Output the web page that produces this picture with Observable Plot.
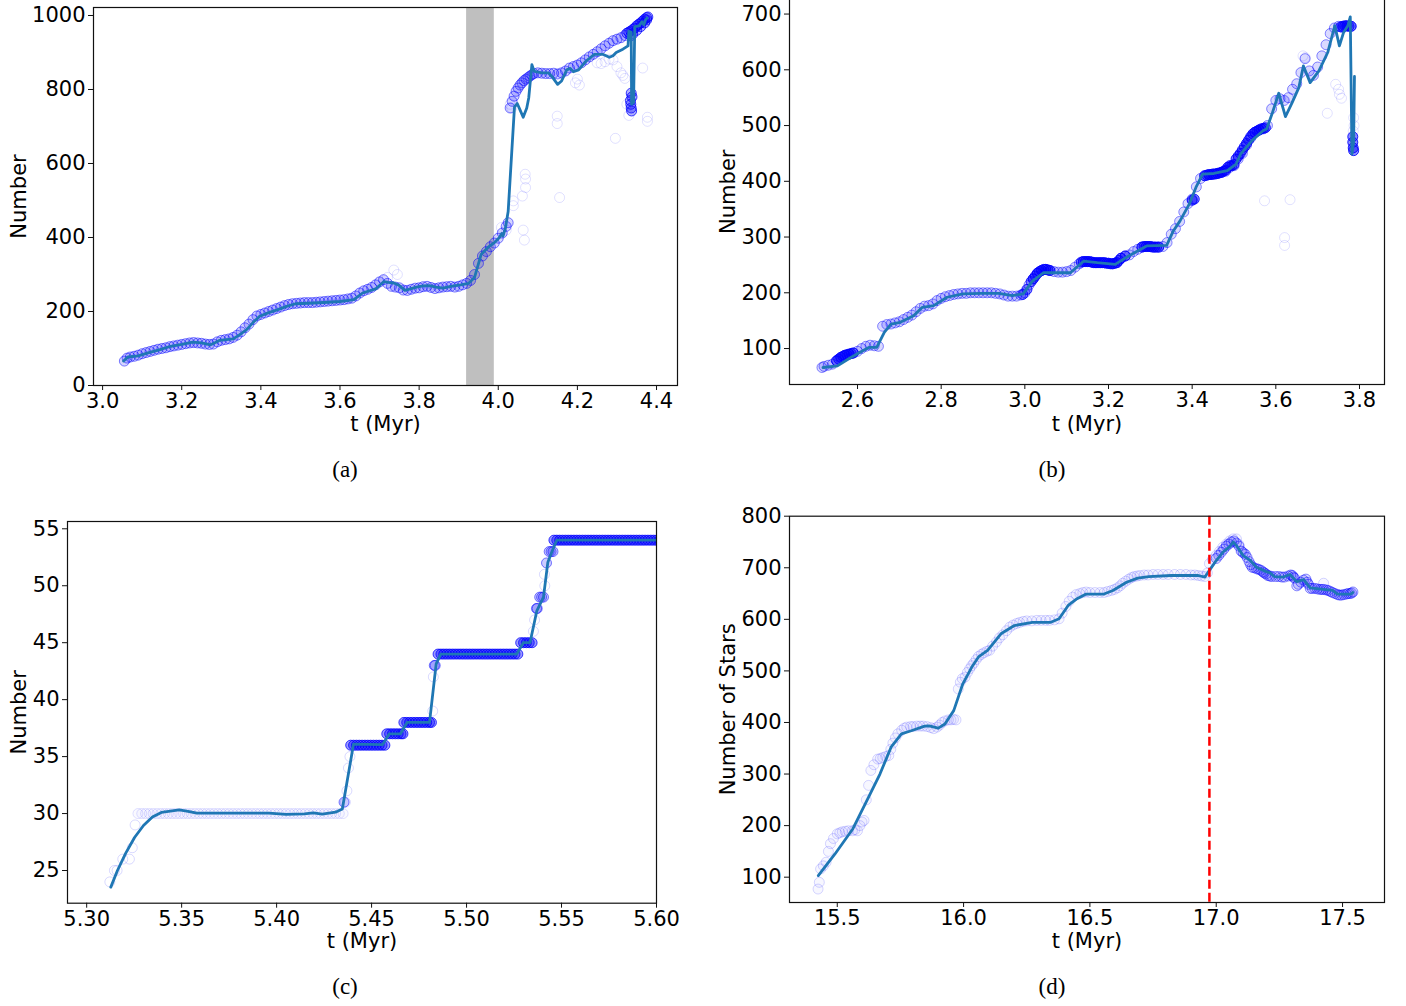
<!DOCTYPE html>
<html><head><meta charset="utf-8">
<script src="https://cdn.jsdelivr.net/npm/d3@7"></script>
<script src="https://cdn.jsdelivr.net/npm/@observablehq/plot@0.6"></script>
<style>
html,body{margin:0;padding:0;background:#fff}
body{width:1406px;height:1006px;position:relative;overflow:hidden;font-family:"DejaVu Sans",sans-serif}
.panel{position:absolute}
.cap{position:absolute;font-family:"Liberation Serif","DejaVu Serif",serif;font-size:23px;transform:translate(-50%,-50%);white-space:nowrap}
</style></head><body>
<div id="pa" class="panel" style="left:0px;top:0px"></div>
<div id="pb" class="panel" style="left:700px;top:-10px"></div>
<div id="pc" class="panel" style="left:0px;top:470px"></div>
<div id="pd" class="panel" style="left:700px;top:470px"></div>
<div class="cap" style="left:345px;top:470px">(a)</div>
<div class="cap" style="left:1052px;top:470px">(b)</div>
<div class="cap" style="left:345px;top:987px">(c)</div>
<div class="cap" style="left:1052px;top:987px">(d)</div>
<script>
// ---------- Panel (a) ----------
const aXTicks = [3.0, 3.2, 3.4, 3.6, 3.8, 4.0, 4.2, 4.4];
const aYTicks = [0, 200, 400, 600, 800, 1000];
const aShade = [[3.92, 3.99]];
const aLine = [[3.053,66],[3.064,77],[3.09,80],[3.115,88],[3.145,97],[3.172,106],[3.2,111],[3.228,117],[3.25,115],[3.273,110],[3.285,116],[3.296,122],[3.33,126],[3.345,136],[3.364,151],[3.38,170],[3.397,187],[3.42,197],[3.443,205],[3.465,214],[3.488,221],[3.533,223],[3.57,225],[3.60,227],[3.635,232],[3.657,250],[3.69,261],[3.711,281],[3.722,279],[3.736,277],[3.75,270],[3.764,257],[3.78,262],[3.793,266],[3.81,269],[3.826,270],[3.843,266],[3.86,263],[3.88,268],[3.905,272],[3.925,276],[3.94,292],[3.957,355],[3.974,373],[3.99,386],[4.003,400],[4.009,411],[4.012,404],[4.018,425],[4.025,470],[4.041,753],[4.048,762],[4.055,745],[4.063,725],[4.072,750],[4.077,777],[4.085,867],[4.091,849],[4.11,845],[4.127,845],[4.135,836],[4.15,814],[4.16,823],[4.173,853],[4.182,857],[4.19,848],[4.203,853],[4.222,877],[4.243,895],[4.264,895],[4.281,887],[4.29,891],[4.298,900],[4.315,909],[4.328,918],[4.33,957],[4.336,955],[4.337,760],[4.342,765],[4.345,970],[4.356,972],[4.363,983],[4.368,975],[4.372,988],[4.376,993]];
const aBand = [[3.055,66],[3.062,74],[3.07,77],[3.08,79],[3.09,82],[3.10,86],[3.11,89],[3.12,92],[3.13,95],[3.14,98],[3.15,100],[3.16,102],[3.17,105],[3.18,107],[3.19,109],[3.20,111],[3.21,113],[3.22,115],[3.23,116],[3.24,115],[3.25,114],[3.26,112],[3.27,111],[3.28,112],[3.29,118],[3.30,122],[3.31,124],[3.32,126],[3.33,130],[3.34,136],[3.35,145],[3.36,156],[3.37,166],[3.38,178],[3.39,188],[3.40,192],[3.41,196],[3.42,200],[3.43,204],[3.44,208],[3.45,212],[3.46,216],[3.47,219],[3.48,221],[3.49,222],[3.50,223],[3.51,224],[3.52,224],[3.53,224],[3.54,225],[3.55,226],[3.56,227],[3.57,228],[3.58,229],[3.59,230],[3.60,231],[3.61,232],[3.62,234],[3.63,236],[3.64,242],[3.65,250],[3.66,256],[3.67,260],[3.68,265],[3.69,272],[3.70,280],[3.71,286],[3.72,276],[3.73,268],[3.74,266],[3.75,264],[3.76,258],[3.77,257],[3.78,260],[3.79,263],[3.80,264],[3.81,267],[3.82,268],[3.83,265],[3.84,262],[3.85,264],[3.86,266],[3.87,267],[3.88,268],[3.89,266],[3.90,268],[3.91,272],[3.92,276],[3.93,284],[3.94,300],[3.95,330],[3.96,350],[3.97,362],[3.98,375],[3.99,385],[4.00,398],[4.01,412],[4.02,430],[4.025,440],[4.03,750],[4.035,768],[4.04,782],[4.045,795],[4.05,804],[4.055,812],[4.06,818],[4.065,824],[4.07,828],[4.075,832],[4.08,836],[4.085,840],[4.09,843],[4.10,845],[4.11,844],[4.12,843],[4.13,843],[4.14,844],[4.15,842],[4.16,845],[4.17,850],[4.18,858],[4.19,862],[4.20,866],[4.21,872],[4.22,880],[4.23,888],[4.24,895],[4.25,902],[4.26,910],[4.27,918],[4.28,925],[4.29,932],[4.30,936],[4.31,940],[4.32,946]];
const aSparse = [[3.736,312],[3.745,300],[3.72,292],[4.008,427],[4.02,420],[4.038,499],[4.038,486],[4.061,512],[4.068,571],[4.069,558],[4.069,535],[4.063,420],[4.066,393],[4.149,728],[4.149,708],[4.155,508],[4.296,668],[4.365,858],[4.377,725],[4.377,714],[4.195,818],[4.2,828],[4.205,812],[4.25,872],[4.26,870],[4.27,875],[4.28,882],[4.29,880],[4.30,862],[4.31,845],[4.315,838],[4.32,830],[4.03,760],[4.034,750],[4.325,760],[4.33,730]];
const aDense = [[4.325,952],[4.33,955],[4.335,958],[4.34,962],[4.345,966],[4.35,972],[4.355,976],[4.36,980],[4.365,985],[4.37,990],[4.375,994],[4.378,996],[4.335,945],[4.34,950],[4.35,960],[4.36,970],[4.37,980],[4.375,988],[4.334,770],[4.335,760],[4.336,750],[4.337,742],[4.338,780],[4.336,790]];

// ---------- Panel (b) ----------
const bXTicks = [2.6, 2.8, 3.0, 3.2, 3.4, 3.6, 3.8];
const bYTicks = [100, 200, 300, 400, 500, 600, 700];
const bLine = [[2.5175,66],[2.552,69],[2.584,84],[2.605,93],[2.627,102],[2.646,102],[2.664,129],[2.68,144],[2.702,147],[2.734,159],[2.755,174],[2.782,177],[2.814,192],[2.852,198],[2.895,199],[2.938,199],[2.97,195],[2.996,198],[3.018,221],[3.045,236],[3.077,236],[3.109,236],[3.141,257],[3.173,254],[3.216,251],[3.248,266],[3.291,284],[3.339,285],[3.355,311],[3.371,329],[3.393,359],[3.409,389],[3.425,413],[3.452,414],[3.484,419],[3.505,431],[3.516,449],[3.543,473],[3.57,491],[3.578,494],[3.591,521],[3.607,558],[3.623,516],[3.639,541],[3.655,568],[3.666,607],[3.682,577],[3.703,598],[3.724,631],[3.741,679],[3.752,643],[3.762,667],[3.772,679],[3.778,695],[3.782,449],[3.786,470],[3.788,588]];
const bBand = [[2.515,66],[2.52,68],[2.53,70],[2.54,72],[2.55,78],[2.56,84],[2.57,88],[2.58,90],[2.59,92],[2.60,95],[2.61,100],[2.62,104],[2.63,106],[2.64,105],[2.65,104],[2.66,140],[2.67,143],[2.68,144],[2.69,146],[2.70,148],[2.71,152],[2.72,156],[2.73,160],[2.74,166],[2.75,172],[2.76,176],[2.77,177],[2.78,180],[2.79,186],[2.80,190],[2.81,193],[2.82,195],[2.83,197],[2.84,198],[2.85,199],[2.86,199],[2.87,200],[2.88,200],[2.89,200],[2.90,200],[2.91,200],[2.92,200],[2.93,199],[2.94,198],[2.95,196],[2.96,194],[2.97,194],[2.98,194],[2.99,196],[3.00,200],[3.01,214],[3.02,225],[3.03,235],[3.04,240],[3.05,242],[3.06,240],[3.07,238],[3.08,237],[3.09,237],[3.10,238],[3.11,240],[3.12,246],[3.13,252],[3.14,256],[3.15,256],[3.16,255],[3.17,254],[3.18,254],[3.19,254],[3.20,253],[3.21,252],[3.22,254],[3.23,262],[3.24,266],[3.25,268],[3.26,274],[3.27,278],[3.28,282],[3.29,283],[3.30,283],[3.31,282],[3.32,282],[3.33,283],[3.34,290],[3.35,305],[3.36,315],[3.37,328],[3.38,345],[3.39,360],[3.40,368],[3.41,390],[3.42,405],[3.43,410],[3.44,412],[3.45,413],[3.46,414],[3.47,416],[3.48,418],[3.49,425],[3.50,428],[3.51,440],[3.52,450],[3.53,465],[3.54,478],[3.55,488],[3.56,492],[3.57,494],[3.58,500],[3.59,530],[3.60,545],[3.61,548],[3.62,545],[3.63,550],[3.64,565],[3.65,575],[3.66,595],[3.67,620],[3.68,598],[3.69,590],[3.70,605],[3.71,625],[3.72,645],[3.73,665],[3.74,675],[3.75,678],[3.76,676],[3.77,678],[3.78,678]];
const bDense = [[2.55,78],[2.555,81],[2.56,84],[2.565,86],[2.57,88],[2.575,89],[2.58,90],[2.585,91],[2.59,92],[2.995,197],[3.005,206],[3.015,220],[3.02,225],[3.025,230],[3.03,235],[3.035,238],[3.04,240],[3.045,242],[3.05,242],[3.055,241],[3.06,240],[3.135,255],[3.14,256],[3.145,256],[3.15,256],[3.155,256],[3.16,255],[3.165,254],[3.17,254],[3.175,254],[3.18,254],[3.185,254],[3.19,254],[3.195,253],[3.20,253],[3.205,252],[3.21,252],[3.215,253],[3.22,254],[3.225,258],[3.23,262],[3.24,266],[3.28,282],[3.285,283],[3.29,283],[3.295,283],[3.30,283],[3.305,282],[3.31,282],[3.315,282],[3.32,282],[3.40,366],[3.405,368],[3.43,410],[3.435,411],[3.44,412],[3.445,412],[3.45,413],[3.455,413],[3.46,414],[3.465,415],[3.47,416],[3.475,418],[3.48,420],[3.485,425],[3.49,428],[3.495,428],[3.50,430],[3.505,440],[3.51,445],[3.515,450],[3.52,456],[3.525,462],[3.53,468],[3.535,474],[3.54,480],[3.545,485],[3.55,488],[3.555,490],[3.56,492],[3.565,494],[3.57,495],[3.575,496],[3.755,677],[3.76,678],[3.765,679],[3.77,679],[3.775,678],[3.78,678],[3.784,470],[3.785,460],[3.786,455],[3.784,480]];
const bSparse = [[3.573,365],[3.634,367],[3.621,299],[3.621,285],[3.723,522],[3.743,574],[3.75,565],[3.752,556],[3.757,549],[3.786,514],[3.787,500],[3.785,490],[3.665,625],[3.67,622]];

// ---------- Panel (c) ----------
const cXTicks = [5.30, 5.35, 5.40, 5.45, 5.50, 5.55, 5.60];
const cYTicks = [25, 30, 35, 40, 45, 50, 55];
const cLine = [[5.3127,23.54],[5.3162,25.0],[5.3205,26.5],[5.3252,27.9],[5.3299,28.95],[5.3346,29.7],[5.3393,30.1],[5.3487,30.33],[5.3534,30.2],[5.358,30.03],[5.372,30.03],[5.396,30.03],[5.405,29.92],[5.4146,29.98],[5.4193,30.06],[5.424,29.95],[5.431,30.12],[5.4346,30.4],[5.4405,36.1],[5.4558,36.05],[5.4593,37.0],[5.4652,37.0],[5.4687,38.0],[5.4805,38.0],[5.484,43.14],[5.4864,44.0],[5.5264,44.0],[5.5299,45.0],[5.5334,45.0],[5.537,47.8],[5.5405,49.0],[5.5428,52.07],[5.5452,53.1],[5.5475,54.0],[5.61,54.0]];
const cRise = [[5.3122,24],[5.3146,25],[5.316,25],[5.319,26],[5.3225,26],[5.324,27],[5.3255,29],[5.4362,31],[5.437,32],[5.4378,34],[5.4386,35],[5.4822,39],[5.4825,42],[5.5352,46],[5.5358,47],[5.5412,50],[5.541,51]];
const cStep30 = [5.327,5.329,5.331,5.333,5.335,5.337,5.339,5.341,5.343,5.345,5.347,5.349,5.351,5.353,5.355,5.357,5.359,5.361,5.363,5.365,5.367,5.369,5.371,5.373,5.375,5.377,5.379,5.381,5.383,5.385,5.387,5.389,5.391,5.393,5.395,5.397,5.399,5.401,5.403,5.405,5.407,5.409,5.411,5.413,5.415,5.417,5.419,5.421,5.423,5.425,5.427,5.429,5.431,5.433,5.435];
const cStep36 = [5.4390,5.4405,5.4420,5.4435,5.4450,5.4465,5.4480,5.4495,5.4510,5.4525,5.4540,5.4555,5.4570];
const cStep37 = [5.4580,5.4595,5.4610,5.4625,5.4640,5.4655,5.4665];
const cStep38 = [5.4670,5.4685,5.4700,5.4715,5.4730,5.4745,5.4760,5.4775,5.4790,5.4805,5.4815];
const cStep44 = [5.4850,5.4865,5.4880,5.4895,5.4910,5.4925,5.4940,5.4955,5.4970,5.4985,5.5000,5.5015,5.5030,5.5045,5.5060,5.5075,5.5090,5.5105,5.5120,5.5135,5.5150,5.5165,5.5180,5.5195,5.5210,5.5225,5.5240,5.5255,5.5270];
const cStep45 = [5.5285,5.5300,5.5315,5.5330,5.5345];
const cStep54 = [5.5460,5.5475,5.5490,5.5505,5.5520,5.5535,5.5550,5.5565,5.5580,5.5595,5.5610,5.5625,5.5640,5.5655,5.5670,5.5685,5.5700,5.5715,5.5730,5.5745,5.5760,5.5775,5.5790,5.5805,5.5820,5.5835,5.5850,5.5865,5.5880,5.5895,5.5910,5.5925,5.5940,5.5955,5.5970,5.5985,5.6000,5.6015];
const cJumps = [[5.4355,31],[5.483,43],[5.4835,43],[5.5368,48],[5.5372,48],[5.5385,49],[5.5395,49],[5.5405,49],[5.5421,52],[5.5435,53],[5.5445,53],[5.5455,53]];

// ---------- Panel (d) ----------
const dXTicks = [15.5, 16.0, 16.5, 17.0, 17.5];
const dYTicks = [100, 200, 300, 400, 500, 600, 700, 800];
const dMarker = [16.973];
const dLine = [[15.425,103],[15.491,145],[15.562,194],[15.624,255],[15.669,300],[15.713,352],[15.754,378],[15.793,384],[15.846,393],[15.864,393.5],[15.9,389],[15.926,397],[15.961,423],[15.997,475],[16.032,507],[16.059,527],[16.095,540],[16.148,572],[16.201,588],[16.272,594],[16.343,594],[16.378,601],[16.414,627],[16.449,640],[16.485,649],[16.556,649],[16.591,656],[16.645,672],[16.689,680],[16.733,683],[16.822,685],[16.929,685],[16.955,682],[16.973,695],[17.0,714],[17.026,730],[17.053,741],[17.067,750],[17.08,743],[17.106,724],[17.133,715],[17.159,701],[17.195,693],[17.213,690],[17.23,683],[17.266,682],[17.292,687],[17.319,673],[17.346,677],[17.372,661],[17.425,658],[17.461,656],[17.479,649],[17.532,649],[17.541,652]];
const dLight = [[15.424,77],[15.429,90],[15.434,116],[15.445,122],[15.456,129],[15.465,150],[15.473,165],[15.485,175],[15.5,184],[15.51,186],[15.52,188],[15.532,189],[15.544,190],[15.56,190],[15.57,192],[15.58,190],[15.59,200],[15.598,207],[15.606,210],[15.615,250],[15.624,278],[15.633,307],[15.645,318],[15.66,329],[15.67,330],[15.68,332],[15.692,334],[15.704,336],[15.712,348],[15.72,360],[15.73,370],[15.74,378],[15.755,385],[15.765,389],[15.775,391],[15.79,392],[15.8,392],[15.815,393],[15.828,393],[15.84,393],[15.855,392],[15.87,390],[15.882,388],[15.895,391],[15.905,395],[15.915,400],[15.926,403],[15.94,405],[15.95,405],[15.96,406],[15.97,405],[15.979,465],[15.987,478],[15.995,485],[16.006,488],[16.015,497],[16.024,504],[16.032,510],[16.04,515],[16.05,522],[16.059,528],[16.07,532],[16.08,535],[16.092,538],[16.103,540],[16.115,548],[16.13,556],[16.142,564],[16.155,570],[16.17,578],[16.183,585],[16.196,589],[16.21,592],[16.222,594],[16.236,596],[16.25,597],[16.27,597],[16.29,598],[16.307,598],[16.325,598],[16.34,598],[16.36,599],[16.378,601],[16.39,612],[16.405,625],[16.418,635],[16.432,643],[16.445,648],[16.46,650],[16.472,652],[16.485,653],[16.5,652],[16.52,652],[16.54,652],[16.556,652],[16.57,654],[16.585,656],[16.597,658],[16.609,661],[16.62,665],[16.63,670],[16.642,674],[16.654,678],[16.665,681],[16.675,683],[16.687,684],[16.698,685],[16.715,686],[16.73,686],[16.75,687],[16.769,687],[16.79,687],[16.81,687],[16.835,687],[16.858,687],[16.88,687],[16.9,686],[16.915,686],[16.929,685],[16.942,684],[16.955,683],[16.965,690],[16.973,708],[16.985,716],[17.0,724],[17.013,732],[17.026,740],[17.04,746],[17.053,752],[17.067,756],[17.08,756],[17.09,745],[17.097,733],[17.425,670]];
const dDense = [[17.0,718],[17.01,724],[17.02,730],[17.03,736],[17.04,742],[17.05,746],[17.06,750],[17.07,752],[17.08,748],[17.09,742],[17.1,732],[17.107,729],[17.115,726],[17.122,720],[17.13,712],[17.136,706],[17.142,701],[17.15,700],[17.16,698],[17.168,697],[17.177,695],[17.185,692],[17.19,690],[17.197,688],[17.204,685],[17.212,684],[17.22,683],[17.235,683],[17.248,683],[17.26,682],[17.27,682],[17.285,684],[17.295,686],[17.301,685],[17.305,682],[17.31,680],[17.319,665],[17.325,668],[17.335,672],[17.345,676],[17.355,678],[17.36,672],[17.365,668],[17.372,660],[17.38,660],[17.39,660],[17.40,659],[17.41,658],[17.418,658],[17.425,658],[17.435,657],[17.443,656],[17.452,654],[17.46,652],[17.47,650],[17.48,648],[17.488,647],[17.496,647],[17.505,648],[17.515,649],[17.522,650],[17.53,650],[17.536,651],[17.541,653]];

// ---------- shared drawing ----------
const LINE = "#1f77b4", PT = "#0000ff";
const X = d => d[0], Y = d => d[1];
const at = (ts, n) => ts.map(t => [t, n]);
function ring(data, op, fop = 0) { return Plot.dot(data, {x: X, y: Y, r: 5, stroke: PT, strokeOpacity: op, strokeWidth: 1, fill: PT, fillOpacity: fop, clip: true}); }
function curve(data) { return Plot.line(data, {x: X, y: Y, stroke: LINE, strokeWidth: 2.8, clip: true}); }

function panel(id, cfg) {
  const {width, height, ml, mr, mt, mb, xDomain, yDomain, xTicks, yTicks, xFmt, ylabel, ylabelDx, xlabelDy, marks} = cfg;
  const chart = Plot.plot({
    width, height, marginLeft: ml, marginRight: mr, marginTop: mt, marginBottom: mb,
    style: {fontFamily: "'DejaVu Sans', sans-serif", fontSize: "21px", color: "black", background: "transparent", overflow: "visible"},
    x: {domain: xDomain, axis: null},
    y: {domain: yDomain, axis: null},
    marks: [
      ...marks,
      Plot.frame({stroke: "#111", strokeWidth: 1.2}),
      Plot.axisX(xTicks, {anchor: "bottom", tickSize: 5, tickPadding: 3, tickFormat: xFmt, label: null, fontSize: 21, stroke: "#111"}),
      Plot.axisY(yTicks, {anchor: "left", tickSize: 5, tickPadding: 3, tickFormat: d3.format("d"), label: null, fontSize: 21, stroke: "#111"}),
      Plot.text([ylabel], {text: d => d, frameAnchor: "left", dx: ylabelDx, rotate: -90, textAnchor: "middle", lineAnchor: "middle", fontSize: 21, fill: "black"}),
      Plot.text(["t (Myr)"], {text: d => d, frameAnchor: "bottom", dy: xlabelDy, textAnchor: "middle", lineAnchor: "middle", fontSize: 21, fill: "black"})
    ]
  });
  document.getElementById(id).appendChild(chart);
}

panel("pa", {
  width: 700, height: 450, ml: 93, mr: 23, mt: 7, mb: 65,
  xDomain: [2.977, 4.453], yDomain: [0, 1021.6],
  xTicks: aXTicks, yTicks: aYTicks, xFmt: d3.format(".1f"),
  ylabel: "Number", ylabelDx: -74, xlabelDy: 39,
  marks: [
    Plot.rect(aShade, {x1: d => d[0], x2: d => d[1], fill: "#bfbfbf"}),
    ring(aBand, 0.5, 0.17),
    ring(aSparse, 0.12),
    ring(aDense, 0.75, 0.3),
    curve(aLine)
  ]
});

panel("pb", {
  width: 706, height: 460, ml: 89, mr: 22, mt: 8.5, mb: 66,
  xDomain: [2.4374, 3.8598], yDomain: [35.5, 727],
  xTicks: bXTicks, yTicks: bYTicks, xFmt: d3.format(".1f"),
  ylabel: "Number", ylabelDx: -61, xlabelDy: 40,
  marks: [
    ring(bBand, 0.45, 0.15),
    ring(bDense, 0.85, 0.45),
    ring(bSparse, 0.12),
    curve(bLine)
  ]
});

panel("pc", {
  width: 700, height: 500, ml: 67, mr: 44, mt: 51, mb: 67.3,
  xDomain: [5.2899, 5.60], yDomain: [22.13, 55.64],
  xTicks: cXTicks, yTicks: cYTicks, xFmt: d3.format(".2f"),
  ylabel: "Number", ylabelDx: -48, xlabelDy: 38.5,
  marks: [
    ring(cRise, 0.15),
    ring(at(cStep30, 30), 0.12, 0.02),
    ring([...at(cStep36, 36), ...at(cStep37, 37), ...at(cStep38, 38), ...at(cStep44, 44), ...at(cStep45, 45), ...at(cStep54, 54)], 0.75, 0.4),
    ring(cJumps, 0.5, 0.2),
    curve(cLine)
  ]
});

panel("pd", {
  width: 706, height: 500, ml: 89, mr: 22, mt: 45.7, mb: 68,
  xDomain: [15.311, 17.666], yDomain: [50.9, 800],
  xTicks: dXTicks, yTicks: dYTicks, xFmt: d3.format(".1f"),
  ylabel: "Number of Stars", ylabelDx: -61, xlabelDy: 39,
  marks: [
    ring(dLight, 0.16, 0.03),
    ring(dDense, 0.45, 0.12),
    curve(dLine),
    Plot.ruleX(dMarker, {x: d => d, stroke: "red", strokeWidth: 2.5, strokeDasharray: "9,4"})
  ]
});
</script>
</body></html>
